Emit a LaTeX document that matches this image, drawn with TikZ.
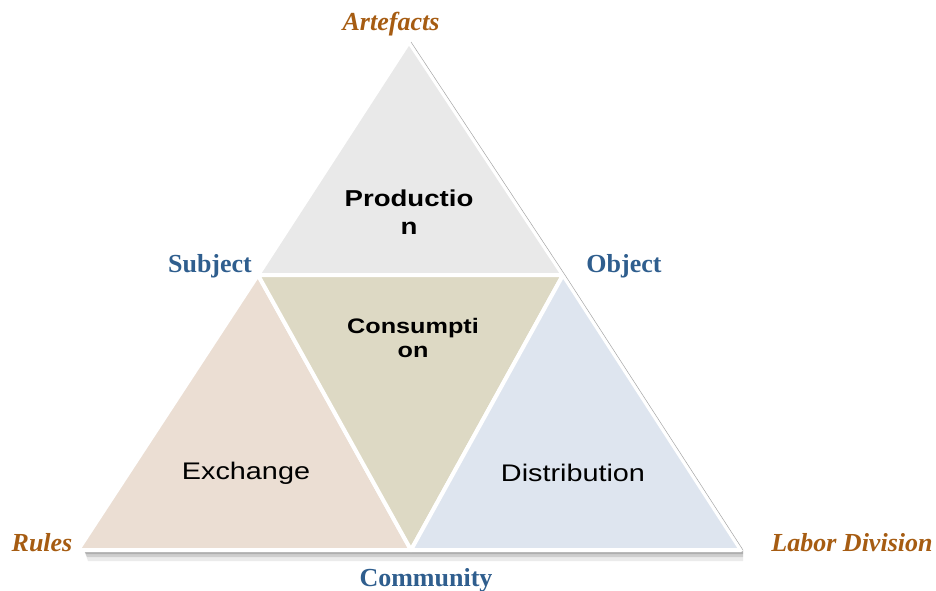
\documentclass[tikz,border=0pt]{standalone}
\usepackage{fontspec}
\setmainfont{Liberation Serif}
\newfontfamily\facetfont[FakeStretch=1.2]{Liberation Sans}
\usetikzlibrary{positioning}
\definecolor{cornercolor}{RGB}{166,92,18}
\definecolor{sidecolor}{RGB}{47,94,142}
\definecolor{prodcolor}{RGB}{233,233,233}
\definecolor{exchcolor}{RGB}{235,222,211}
\definecolor{conscolor}{RGB}{221,217,196}
\definecolor{distcolor}{RGB}{222,229,239}

\begin{document}
\begin{tikzpicture}[
    x=1pt, y=-1pt,
    facet/.style={fill=#1, draw=white, line width=4pt, line join=round},
    facetshadow/.style={fill=black, opacity=#1},
    rim/.style={draw=gray!70, line width=0.5pt},
    sidelabel/.style={font=\fontsize{26}{30}\selectfont\bfseries, text=sidecolor, inner sep=0pt},
    cornerlabel/.style={font=\fontsize{26}{30}\selectfont\bfseries\itshape, text=cornercolor, inner sep=0pt},
    facetbold/.style={font=\facetfont\bfseries\fontsize{23}{28}\selectfont, align=center, inner sep=0pt},
    facettext/.style={font=\facetfont\fontsize{24}{28}\selectfont, align=center, inner sep=0pt}
]
    \useasboundingbox (0,0) rectangle (936,590);

    % Corners
    \coordinate (art) at (409,42);
    \coordinate (subj) at (258,275);
    \coordinate (obj) at (563,275);
    \coordinate (rul) at (78,550);
    \coordinate (com) at (411,550);
    \coordinate (lab) at (741,550);

    % Shadow under the base
    \fill[facetshadow=0.08] ([xshift=6pt]rul) -- ([xshift=2pt]lab) -- ([xshift=2pt,yshift=-11pt]lab) -- ([xshift=10pt,yshift=-11pt]rul) -- cycle;
    \fill[facetshadow=0.12] ([xshift=6pt]rul) -- ([xshift=2pt]lab) -- ([xshift=2pt,yshift=-7pt]lab) -- ([xshift=9pt,yshift=-7pt]rul) -- cycle;
    \fill[facetshadow=0.15] ([xshift=6pt]rul) -- ([xshift=2pt]lab) -- ([xshift=2pt,yshift=-4pt]lab) -- ([xshift=8pt,yshift=-4pt]rul) -- cycle;

    % Facets
    \filldraw[facet=prodcolor] (art) -- (subj) -- (obj) -- cycle;
    \filldraw[facet=exchcolor] (subj) -- (rul) -- (com) -- cycle;
    \filldraw[facet=conscolor] (subj) -- (obj) -- (com) -- cycle;
    \filldraw[facet=distcolor] (obj) -- (com) -- (lab) -- cycle;
    \draw[rim] ([xshift=2pt]art) -- ([xshift=2pt]obj);
    \draw[rim] ([xshift=2pt]obj) -- ([xshift=2pt]lab);

    % Facet texts
    \node[facetbold] (production) at (409,212) {Productio\\n};
    \node[facetbold, font=\facetfont\bfseries\fontsize{21}{24}\selectfont] (consumption) at (413,338) {Consumpti\\on};
    \node[facettext] (exchange) at (246,473) {Exchange};
    \node[facettext] (distribution) at (573,473) {Distribution};

    % Corner labels
    \node[cornerlabel] (artefacts) at (391,24) {Artefacts};
    \node[sidelabel] (subject) at (210,266) {Subject};
    \node[sidelabel] (object) at (624,266) {Object};
    \node[cornerlabel] (rules) at (42,543) {Rules};
    \node[cornerlabel] (labor) at (852,543) {Labor Division};
    \node[sidelabel] (community) at (426,580) {Community};
\end{tikzpicture}
\end{document}
